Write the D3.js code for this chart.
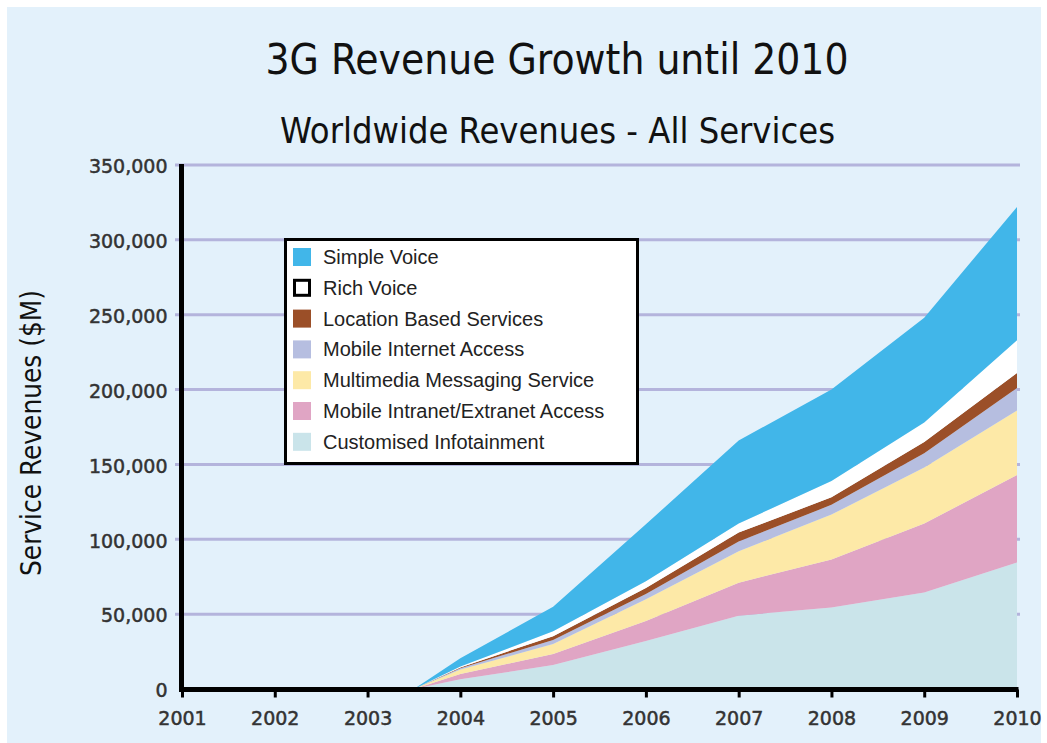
<!DOCTYPE html>
<html>
<head>
<meta charset="utf-8">
<script src="https://cdn.jsdelivr.net/npm/d3@7"></script>
<style>
  html, body { margin: 0; padding: 0; background: #ffffff; }
  svg { display: block; }
</style>
</head>
<body>
<svg id="chart" width="1047" height="743"></svg>
<script>
// ---------------- DATA ----------------
const years = [2003.5, 2004, 2005, 2006, 2007, 2008, 2009, 2010];
const axisYears = [2001, 2002, 2003, 2004, 2005, 2006, 2007, 2008, 2009, 2010];
const yTicks = [0, 50000, 100000, 150000, 200000, 250000, 300000, 350000];

const customisedInfotainment = [0, 6500, 16000, 32000, 49000, 54500, 64500, 84500];
const mobileIntranetExtranet = [0, 3500, 7300, 13500, 22000, 32000, 46000, 58500];
const multimediaMessaging    = [0, 3000, 6700, 14500, 21000, 30000, 37500, 43000];
const mobileInternetAccess   = [0, 800, 2800, 3500, 6500, 6500, 9500, 15000];
const locationBasedServices  = [0, 600, 2500, 4000, 6000, 5000, 7500, 10000];
const richVoice              = [0, 600, 3200, 4500, 6000, 11000, 13000, 22000];
const simpleVoice            = [0, 5500, 16500, 38000, 55500, 61000, 70000, 89000];

const seriesNames = ["Customised Infotainment", "Mobile Intranet/Extranet Access",
  "Multimedia Messaging Service", "Mobile Internet Access", "Location Based Services",
  "Rich Voice", "Simple Voice"];
const seriesValues = [customisedInfotainment, mobileIntranetExtranet, multimediaMessaging,
  mobileInternetAccess, locationBasedServices, richVoice, simpleVoice];
const seriesColors = ["#cae4ea", "#e0a5c4", "#fde9a7", "#b6bee0", "#9b4f28", "#ffffff", "#41b6e9"];
const legendOrder = ["Simple Voice", "Rich Voice", "Location Based Services", "Mobile Internet Access",
  "Multimedia Messaging Service", "Mobile Intranet/Extranet Access", "Customised Infotainment"];

const titleText = "3G Revenue Growth until 2010";
const subtitleText = "Worldwide Revenues - All Services";
const yLabelText = "Service Revenues ($M)";

// ---------------- LAYOUT ----------------
const svg = d3.select("#chart");
const condensed = "'Liberation Sans Narrow', 'DejaVu Sans Condensed', 'Liberation Sans', sans-serif";
const tickFont = "'DejaVu Sans', Verdana, sans-serif";

svg.append("rect").attr("x", 7).attr("y", 7).attr("width", 1034).attr("height", 736)
  .attr("fill", "#e3f1fb");

const x = d3.scaleLinear().domain([2001, 2010]).range([182, 1017]);
const y = d3.scaleLinear().domain([0, 350000]).range([689, 165]);

// Titles
svg.append("text").attr("x", 557).attr("y", 74).attr("text-anchor", "middle")
  .attr("font-family", condensed).attr("font-size", 43).attr("fill", "#111")
  .attr("textLength", 583).attr("lengthAdjust", "spacingAndGlyphs").text(titleText);
svg.append("text").attr("x", 557.5).attr("y", 143).attr("text-anchor", "middle")
  .attr("font-family", condensed).attr("font-size", 35).attr("fill", "#111")
  .attr("textLength", 555).attr("lengthAdjust", "spacingAndGlyphs").text(subtitleText);

// Y axis title
svg.append("text").attr("transform", "translate(41,433) rotate(-90)")
  .attr("text-anchor", "middle").attr("font-family", condensed).attr("font-size", 28)
  .attr("fill", "#111").attr("textLength", 286).attr("lengthAdjust", "spacingAndGlyphs")
  .text(yLabelText);

// Gridlines
svg.append("g").selectAll("line").data(yTicks.filter(d => d > 0)).join("line")
  .attr("x1", 175).attr("x2", 1020).attr("y1", d => y(d)).attr("y2", d => y(d))
  .attr("stroke", "#b4b4dc").attr("stroke-width", 3);

// Stacked areas
const table = years.map((yr, i) => {
  const row = { year: yr };
  seriesNames.forEach((n, k) => row[n] = seriesValues[k][i]);
  return row;
});
const stack = d3.stack().keys(seriesNames);
const layers = stack(table);
const area = d3.area().x(d => x(d.data.year)).y0(d => y(d[0])).y1(d => y(d[1]));
svg.append("g").selectAll("path").data(layers).join("path")
  .attr("d", area).attr("fill", (d, i) => seriesColors[i]);

// Y axis
const yAxis = d3.axisLeft(y).tickValues(yTicks).tickSize(0).tickPadding(14)
  .tickFormat(d3.format(","));
const gy = svg.append("g").attr("transform", "translate(181.5,0)").call(yAxis);
gy.select(".domain").attr("stroke", "#000").attr("stroke-width", 5)
  .attr("d", `M0,${y(350000) - 1}V${y(0) + 3}`);
gy.selectAll("text").attr("font-family", tickFont).attr("font-size", 19)
  .attr("fill", "#333").attr("stroke", "#333").attr("stroke-width", 0.5)
  .attr("dy", "0.62em").attr("y", -4);

// X axis
const xAxis = d3.axisBottom(x).tickValues(axisYears).tickSize(8).tickPadding(14)
  .tickFormat(d3.format("d"));
const gx = svg.append("g").attr("transform", "translate(0,689.5)").call(xAxis);
gx.select(".domain").attr("stroke", "#000").attr("stroke-width", 5)
  .attr("d", `M${x(2001) - 2.5},0H${x(2010) + 1.5}`);
gx.selectAll(".tick line").attr("stroke", "#000").attr("stroke-width", 3);
gx.selectAll("text").attr("font-family", tickFont).attr("font-size", 19)
  .attr("fill", "#333").attr("stroke", "#333").attr("stroke-width", 0.5);

// Legend
const lg = svg.append("g");
lg.append("rect").attr("x", 285.5).attr("y", 239.5).attr("width", 352).attr("height", 224)
  .attr("fill", "#ffffff").attr("stroke", "#000").attr("stroke-width", 3);
const items = lg.selectAll("g.item").data(legendOrder).join("g")
  .attr("transform", (d, i) => `translate(293,${257 + i * 30.8})`);
items.append("rect")
  .attr("x", d => d === "Rich Voice" ? 1.5 : 0)
  .attr("y", d => d === "Rich Voice" ? -7.5 : -9)
  .attr("width", d => d === "Rich Voice" ? 15 : 18)
  .attr("height", d => d === "Rich Voice" ? 15 : 18)
  .attr("fill", d => seriesColors[seriesNames.indexOf(d)])
  .attr("stroke", d => d === "Rich Voice" ? "#000" : "none")
  .attr("stroke-width", 3);
items.append("text").attr("x", 30).attr("y", 7)
  .attr("font-family", "'Liberation Sans', Arial, sans-serif").attr("font-size", 20)
  .attr("fill", "#222").text(d => d);
</script>
</body>
</html>
